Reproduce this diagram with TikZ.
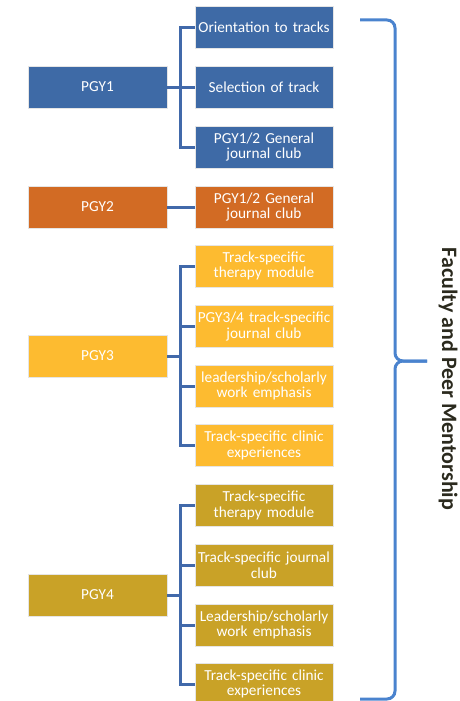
\documentclass[tikz,border=0pt]{standalone}
\usepackage{fontspec}
\setmainfont{Carlito}
\definecolor{cblue}{HTML}{3E6AA6}
\definecolor{corange}{HTML}{D26B24}
\definecolor{cyellow}{HTML}{FDBB30}
\definecolor{cgold}{HTML}{C9A227}
\definecolor{cline}{HTML}{4169AA}
\definecolor{cbrace}{HTML}{4A83CE}
\definecolor{ctext}{HTML}{2B2A1E}
\begin{document}
\begin{tikzpicture}[x=1pt,y=-1pt,
  box/.style={rectangle,minimum height=42pt,inner sep=1pt,align=center,text=white,
    font=\fontsize{15.3}{15.5}\selectfont,draw=white!80!gray,line width=0.4pt},
  parent/.style={box,minimum width=139pt},
  child/.style={box,minimum width=138pt,text width=136pt},
  conn/.style={draw=cline,line width=3pt},
  bracestyle/.style={draw=cbrace,line width=3pt,rounded corners=8pt}]
\useasboundingbox (0,0) rectangle (459,701);
\clip (0,0) rectangle (459,701);
% PGY1
\node[parent,fill=cblue] (p1) at (97.5,87) {PGY1};
\node[child,fill=cblue] (a1) at (264,27.5) {Orientation to tracks};
\node[child,fill=cblue] (a2) at (264,87) {Selection of track};
\node[child,fill=cblue] (a3) at (264,147) {PGY1/2 General\\journal club};
% PGY2
\node[parent,fill=corange] (p2) at (97.5,207) {PGY2};
\node[child,fill=corange] (b1) at (264,207) {PGY1/2 General\\journal club};
% PGY3
\node[parent,fill=cyellow] (p3) at (97.5,356) {PGY3};
\node[child,fill=cyellow] (c1) at (264,266) {Track-specific\\therapy module};
\node[child,fill=cyellow] (c2) at (264,326.5) {PGY3/4 track-specific\\journal club};
\node[child,fill=cyellow] (c3) at (264,386) {leadership/scholarly\\work emphasis};
\node[child,fill=cyellow] (c4) at (264,445.5) {Track-specific clinic\\experiences};
% PGY4
\node[parent,fill=cgold] (p4) at (97.5,595) {PGY4};
\node[child,fill=cgold] (d1) at (264,505.5) {Track-specific\\therapy module};
\node[child,fill=cgold] (d2) at (264,565) {Track-specific journal\\club};
\node[child,fill=cgold] (d3) at (264,625) {Leadership/scholarly\\work emphasis};
\node[child,fill=cgold] (d4) at (264,684) {Track-specific clinic\\experiences};
% connectors
\foreach \c in {a1,a2,a3} \draw[conn] (p1.east) -- ++(13,0) |- (\c.west);
\draw[conn] (p2.east) -- (b1.west);
\foreach \c in {c1,c2,c3,c4} \draw[conn] (p3.east) -- ++(13,0) |- (\c.west);
\foreach \c in {d1,d2,d3,d4} \draw[conn] (p4.east) -- ++(13,0) |- (\c.west);
% brace
\coordinate (btop) at (360,20);
\coordinate (btip) at (427,361);
\coordinate (bbot) at (360,699);
\draw[bracestyle] (btop) -- (395,20) -- (395,361) -- (btip);
\draw[bracestyle] (btip) -- (395,361) -- (395,699) -- (bbot);
\node[rotate=-90,text=ctext,font=\bfseries\fontsize{22}{24}\selectfont] (lbl) at (448,379) {Faculty and Peer Mentorship};
\end{tikzpicture}
\end{document}
